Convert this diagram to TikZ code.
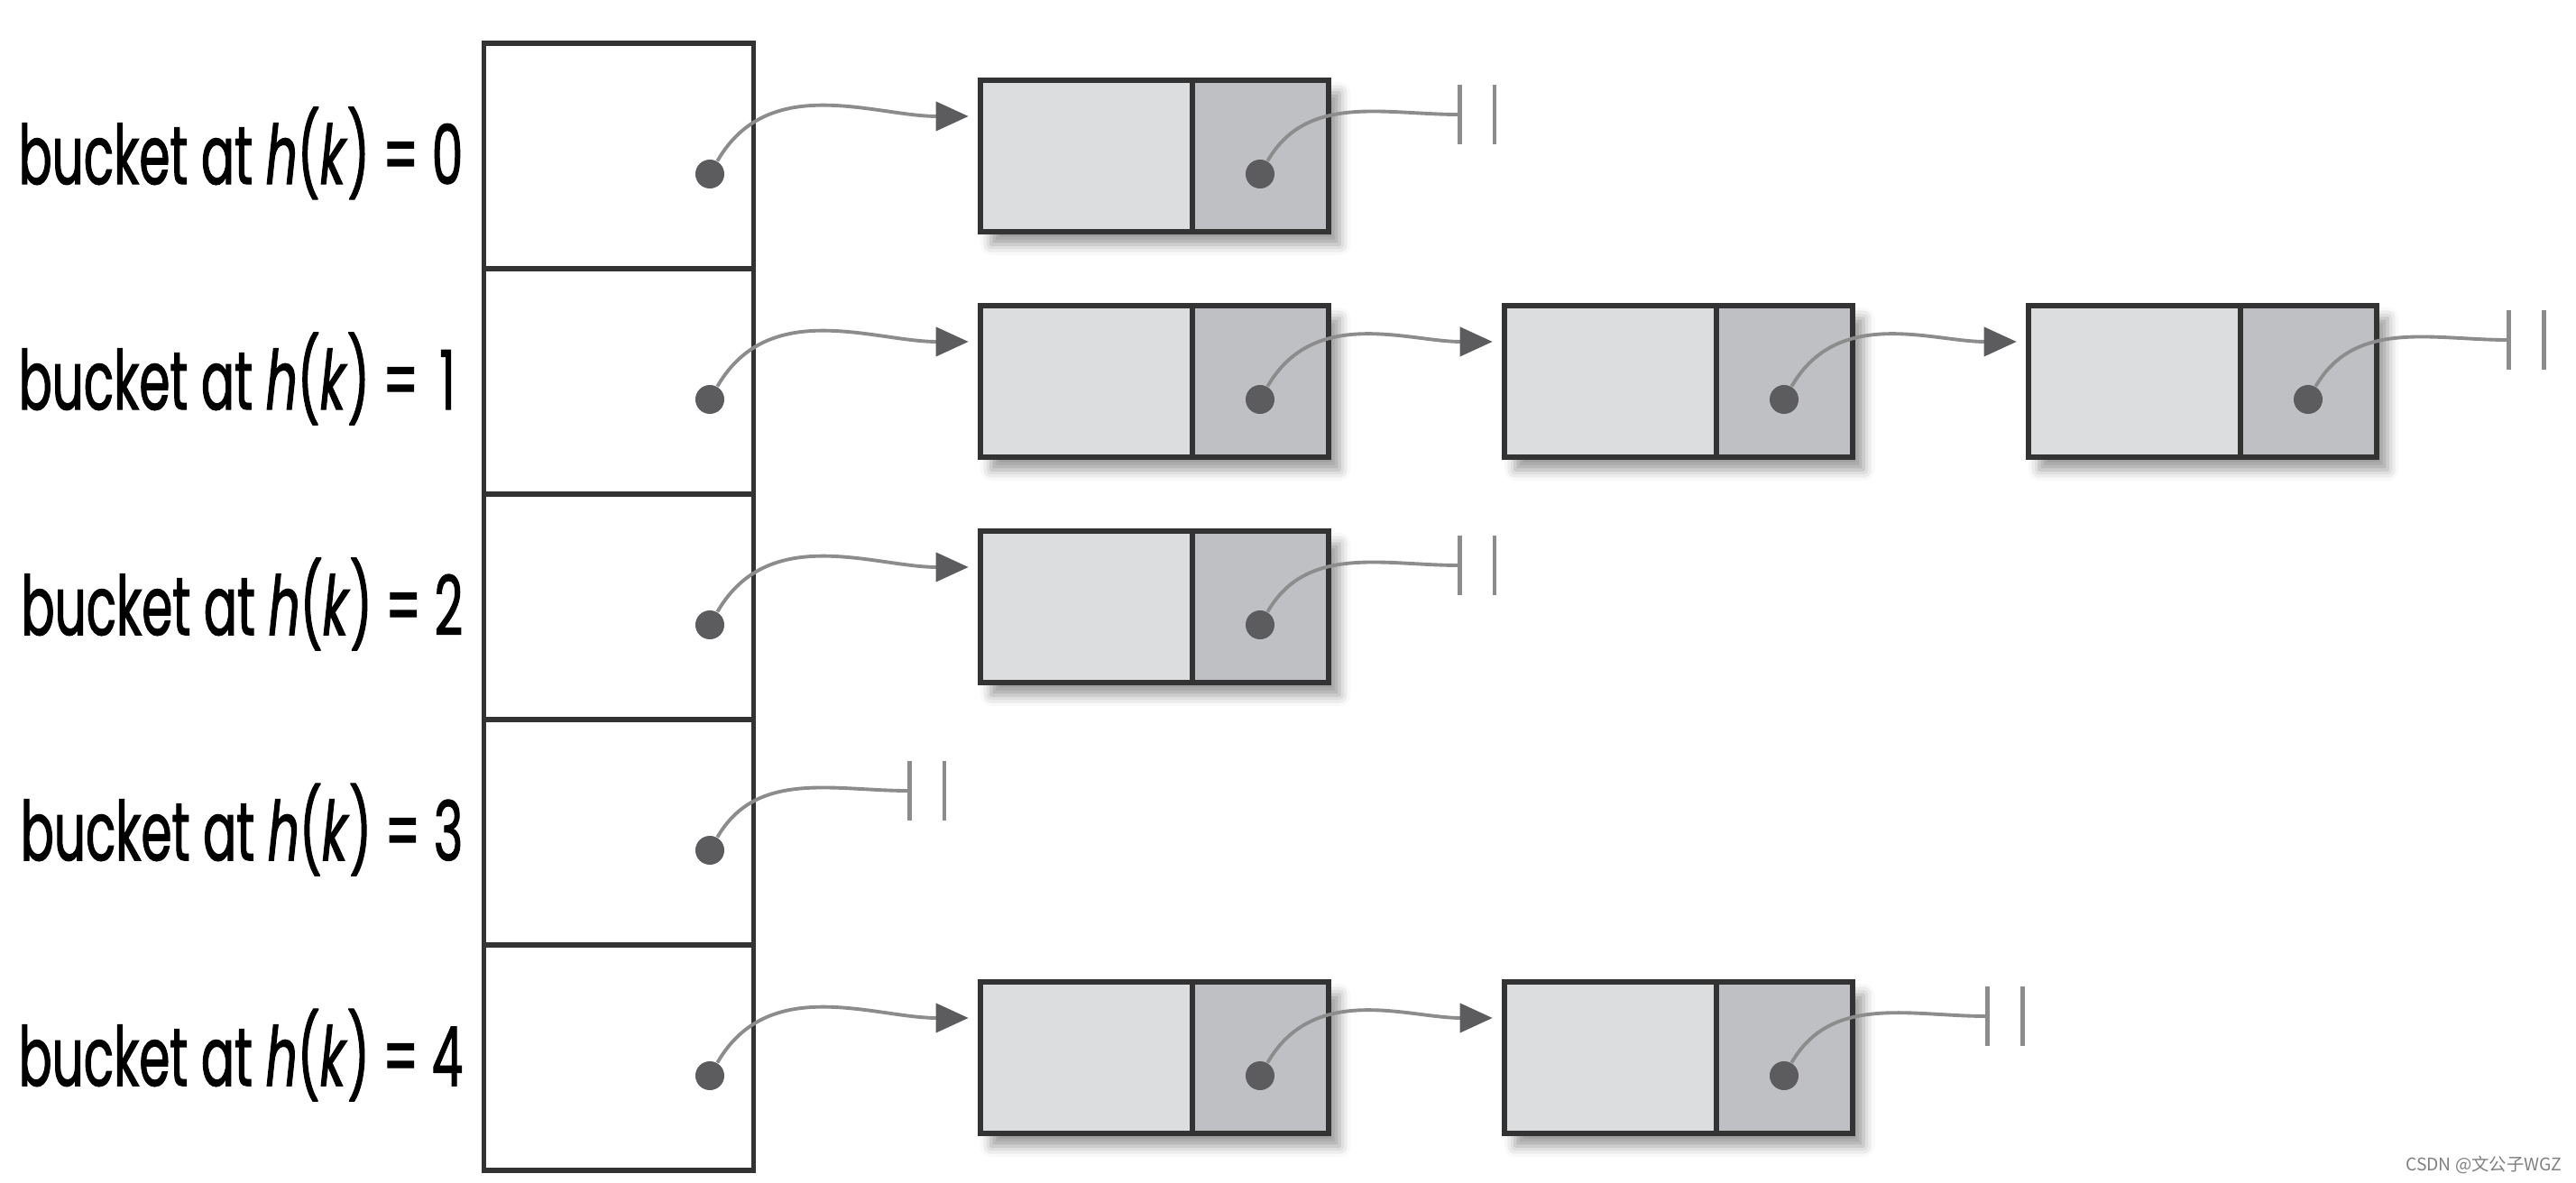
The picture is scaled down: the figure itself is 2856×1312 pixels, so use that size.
\documentclass[tikz,border=0pt]{standalone}
\usepackage{fontspec}
\usetikzlibrary{arrows.meta,shadows.blur}
\newfontfamily\bucketfont[FakeStretch=0.6, FakeBold=1.2]{Poppins}
\newfontfamily\cjkfont{Noto Sans CJK SC}
\definecolor{boxline}{HTML}{333333}
\definecolor{datafill}{HTML}{DCDDDF}
\definecolor{ptrfill}{HTML}{BFC0C3}
\definecolor{linkgray}{HTML}{8C8C8C}
\definecolor{dotgray}{HTML}{5C5C5E}

\begin{document}
\begin{tikzpicture}[x=0.01cm, y=-0.01cm,
    bucket/.style={draw=boxline, line width=1.6pt, fill=white, minimum width=2.99cm, minimum height=2.5cm, inner sep=0pt},
    listnode/.style={draw=boxline, line width=1.8pt, fill=datafill, minimum width=3.86cm, minimum height=1.68cm, inner sep=0pt,
        blur shadow={shadow xshift=1.2mm, shadow yshift=-1.4mm, shadow blur radius=1.2mm, shadow opacity=40}},
    ptrcell/.style={draw=boxline, line width=1.8pt, fill=ptrfill, minimum width=1.51cm, minimum height=1.68cm, inner sep=0pt, anchor=east},
    ptrdot/.style={circle, fill=dotgray, minimum size=3.2mm, inner sep=0pt},
    link/.style={draw=linkgray, line width=1.1pt, -{Triangle[length=3.6mm, width=3.2mm, color=dotgray]}, shorten >=1mm},
    nullend/.style={draw=linkgray, line width=1.1pt, -{Bar[width=6.6mm, line width=1.4pt]}},
    nullbar/.style={draw=linkgray, line width=1.4pt},
    bucketlabel/.style={anchor=east, inner sep=0pt, font=\bucketfont\fontsize{26}{30}\selectfont}
]
    % Fix the page size
    \useasboundingbox (0,0) rectangle (2856,1312);

    % The buckets of the table
    \node[bucket] (b0) at (686,173) {};
    \node[bucket] (b1) at (686,423) {};
    \node[bucket] (b2) at (686,673) {};
    \node[bucket] (b3) at (686,923) {};
    \node[bucket] (b4) at (686,1173) {};

    % Labels of the buckets
    \node[bucketlabel] (l0) at (514,170) {bucket at \textit{h}(\textit{k}) = 0};
    \node[bucketlabel] (l1) at (514,420) {bucket at \textit{h}(\textit{k}) = \makebox[\fontcharwd\font`0][c]{1}};
    \node[bucketlabel] (l2) at (514,670) {bucket at \textit{h}(\textit{k}) = 2};
    \node[bucketlabel] (l3) at (514,920) {bucket at \textit{h}(\textit{k}) = 3};
    \node[bucketlabel] (l4) at (514,1170) {bucket at \textit{h}(\textit{k}) = 4};

    % Pointers held in the buckets
    \node[ptrdot] (b0d) at (787,193) {};
    \node[ptrdot] (b1d) at (787,443) {};
    \node[ptrdot] (b2d) at (787,693) {};
    \node[ptrdot] (b3d) at (787,943) {};
    \node[ptrdot] (b4d) at (787,1193) {};

    % Chained elements, row by row
    \node[listnode] (n00) at (1280,173) {};
    \node[ptrcell] (n00p) at (n00.east) {};
    \node[ptrdot] (n00d) at (1397,193) {};

    \node[listnode] (n10) at (1280,423) {};
    \node[ptrcell] (n10p) at (n10.east) {};
    \node[ptrdot] (n10d) at (1397,443) {};
    \node[listnode] (n11) at (1861,423) {};
    \node[ptrcell] (n11p) at (n11.east) {};
    \node[ptrdot] (n11d) at (1978,443) {};
    \node[listnode] (n12) at (2442,423) {};
    \node[ptrcell] (n12p) at (n12.east) {};
    \node[ptrdot] (n12d) at (2559,443) {};

    \node[listnode] (n20) at (1280,673) {};
    \node[ptrcell] (n20p) at (n20.east) {};
    \node[ptrdot] (n20d) at (1397,693) {};

    \node[listnode] (n40) at (1280,1173) {};
    \node[ptrcell] (n40p) at (n40.east) {};
    \node[ptrdot] (n40d) at (1397,1193) {};
    \node[listnode] (n41) at (1861,1173) {};
    \node[ptrcell] (n41p) at (n41.east) {};
    \node[ptrdot] (n41d) at (1978,1193) {};

    % Ends of the chains
    \coordinate (e0) at (1621,127);
    \coordinate (e1) at (2784,377);
    \coordinate (e2) at (1621,627);
    \coordinate (e3) at (1011,877);
    \coordinate (e4) at (2206,1127);

    % Links from bucket to element
    \draw[link] (b0d) to[out=60, in=180] ([yshift=4.4mm]n00.west);
    \draw[link] (b1d) to[out=60, in=180] ([yshift=4.4mm]n10.west);
    \draw[link] (b2d) to[out=60, in=180] ([yshift=4.4mm]n20.west);
    \draw[link] (b4d) to[out=60, in=180] ([yshift=4.4mm]n40.west);

    % Links from element to element
    \draw[link] (n10d) to[out=60, in=180] ([yshift=4.4mm]n11.west);
    \draw[link] (n11d) to[out=60, in=180] ([yshift=4.4mm]n12.west);
    \draw[link] (n40d) to[out=60, in=180] ([yshift=4.4mm]n41.west);

    % Null pointers
    \draw[nullend] (n00d) to[out=60, in=180] (e0);
    \draw[nullend] (n12d) to[out=60, in=180] (e1);
    \draw[nullend] (n20d) to[out=60, in=180] (e2);
    \draw[nullend] (b3d) to[out=60, in=180] (e3);
    \draw[nullend] (n41d) to[out=60, in=180] (e4);
    \draw[nullbar] ([shift={(3.6mm,3.3mm)}]e0) -- ([shift={(3.6mm,-3.3mm)}]e0);
    \draw[nullbar] ([shift={(3.6mm,3.3mm)}]e1) -- ([shift={(3.6mm,-3.3mm)}]e1);
    \draw[nullbar] ([shift={(3.6mm,3.3mm)}]e2) -- ([shift={(3.6mm,-3.3mm)}]e2);
    \draw[nullbar] ([shift={(3.6mm,3.3mm)}]e3) -- ([shift={(3.6mm,-3.3mm)}]e3);
    \draw[nullbar] ([shift={(3.6mm,3.3mm)}]e4) -- ([shift={(3.6mm,-3.3mm)}]e4);

    % Watermark
    \node[anchor=east, inner sep=0pt, text=gray, font=\cjkfont\fontsize{5.5}{6}\selectfont] (wm) at (2841,1292) {CSDN @文公子WGZ};
\end{tikzpicture}
\end{document}
